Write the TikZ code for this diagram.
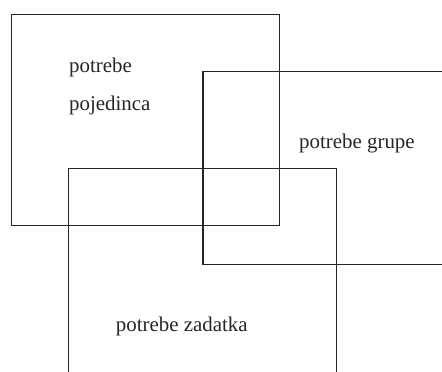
\documentclass[tikz,border=0pt]{standalone}
\usepackage{fontspec}
\setmainfont{Liberation Serif}
\begin{document}
\begin{tikzpicture}[x=1pt,y=-1pt,
  box/.style={draw=black!85,line width=1.2pt},
  lbl/.style={inner sep=0pt,anchor=base west,font=\fontsize{20.9}{25}\selectfont,text=black!85}]
\useasboundingbox (0,0) rectangle (442,372);
\clip (0,0) rectangle (442,372);
\fill[white] (0,0) rectangle (442,372);
\draw[box] (11.3,14.7) rectangle (279.3,225.7);
\draw[box] (203,71.7) rectangle (460,264.3);
\draw[box] (68.3,168.7) rectangle (336.3,390);
\node[lbl] (p1) at (69,72.7) {potrebe};
\node[lbl] (p2) at (69,110) {pojedinca};
\node[lbl] (g) at (299,148) {potrebe grupe};
\node[lbl] (z) at (115.7,331) {potrebe zadatka};
\end{tikzpicture}
\end{document}
